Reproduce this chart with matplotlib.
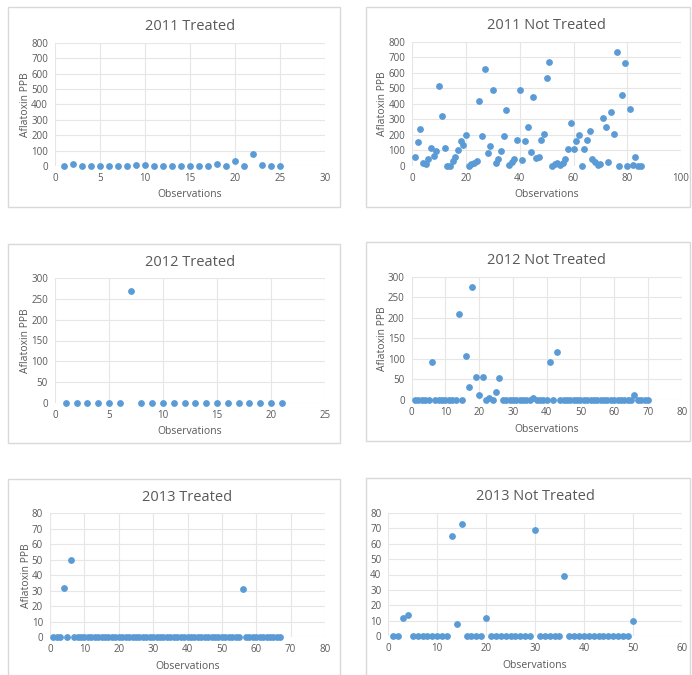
import matplotlib.pyplot as plt
from matplotlib.patches import Rectangle

# Data
t2011 = [2, 13, 0, 2, 2, 0, 2, 2, 4, 4, 0, 0, 0, 0, 0, 0, 0, 13, 0, 30, 0, 80, 9, 0, 0]
nt2011 = [55, 157, 240, 17, 13, 45, 114, 64, 94, 517, 320, 118, 2, 2, 34, 56, 101, 161, 135, 202,
          0, 11, 19, 30, 418, 191, 624, 86, 129, 489, 19, 43, 97, 191, 363, 4, 26, 45, 167, 487,
          36, 161, 251, 88, 446, 54, 58, 167, 208, 569, 667, 2, 13, 17, 6, 21, 45, 109, 277, 107,
          161, 200, 0, 109, 167, 223, 47, 24, 4, 13, 307, 251, 26, 348, 206, 732, 0, 457, 661, 0,
          365, 6, 60, 0, 2]
t2012 = [0, 0, 0, 0, 0, 0, 270, 0, 0, 0, 0, 0, 0, 0, 0, 0, 0, 0, 0, 0, 0]
nt2012 = [0, 0, 0, 0, 0, 92, 0, 0, 0, 0, 0, 0, 0, 210, 0, 108, 32, 274, 57, 13,
          56, 0, 6, 0, 19, 54, 0, 0, 0, 0, 0, 0, 0, 0, 0, 4, 0, 0, 0, 0,
          93, 0, 118, 0, 0, 0, 0, 0, 0, 0, 0, 0, 0, 0, 0, 0, 0, 0, 0, 0,
          0, 0, 0, 0, 0, 13, 0, 0, 0, 0]
t2013 = [0, 0, 0, 32, 0, 50] + [0] * 49 + [31] + [0] * 11
nt2013 = [0, 0, 12, 14, 0, 0, 0, 0, 0, 0, 0, 0, 65, 8, 73, 0, 0, 0, 0, 12,
          0, 0, 0, 0, 0, 0, 0, 0, 0, 69, 0, 0, 0, 0, 0, 39, 0, 0, 0, 0,
          0, 0, 0, 0, 0, 0, 0, 0, 0, 10]

W, H = 692, 675
BLUE = "#5B9BD5"
TEXT = "#595959"
GRID = "#E6E6E6"
BORDER = "#D9D9D9"

plt.rcParams["font.family"] = ["Open Sans", "DejaVu Sans"]

fig = plt.figure(figsize=(W / 100, H / 100), dpi=100)


def box(x0, y0, x1, y1):
    fig.patches.append(Rectangle((x0 / W, 1 - y1 / H), (x1 - x0) / W, (y1 - y0) / H,
                                 transform=fig.transFigure, fill=False,
                                 edgecolor=BORDER, linewidth=1.0))


def panel(vals, title, rect, xmax, xstep, ymax, ystep, ylabel=True):
    x0, ytop, x1, ybot = rect
    ax = fig.add_axes([x0 / W, 1 - ybot / H, (x1 - x0) / W, (ybot - ytop) / H])
    obs = list(range(1, len(vals) + 1))
    ax.scatter(obs, vals, s=15, color=BLUE, zorder=3, clip_on=False)
    ax.set_xlim(0, xmax)
    ax.set_ylim(0, ymax)
    ax.set_xticks(range(0, xmax + 1, xstep))
    ax.set_yticks(range(0, ymax + 1, ystep))
    ax.grid(True, color=GRID, linewidth=0.8)
    ax.set_axisbelow(True)
    for s in ax.spines.values():
        s.set_visible(False)
    ax.tick_params(length=0, labelsize=7, labelcolor=TEXT, pad=5)
    ax.set_title(title, fontsize=10.5, color=TEXT, pad=9)
    ax.set_xlabel("Observations", fontsize=7.5, color=TEXT, labelpad=4)
    if ylabel:
        ax.set_ylabel("Aflatoxin PPB", fontsize=7.5, color=TEXT, labelpad=0)
    return ax


box(8, 7, 340, 207)
box(366, 7, 690, 207)
box(8, 244, 340, 443)
box(366, 242, 690, 441)
box(8, 479, 340, 690)
box(366, 478, 690, 690)

panel(t2011, "2011 Treated", (55, 42.7, 325.3, 166), 30, 5, 800, 100)
panel(nt2011, "2011 Not Treated", (412.3, 41.7, 681, 166), 100, 20, 800, 100)
panel(t2012, "2012 Treated", (55, 278.3, 325, 402.7), 25, 5, 300, 50)
panel(nt2012, "2012 Not Treated", (411.7, 276.7, 681.7, 400), 80, 10, 300, 50)
panel(t2013, "2013 Treated", (50, 513.3, 325, 637.3), 80, 10, 80, 10)
panel(nt2013, "2013 Not Treated", (388.3, 512.7, 681.7, 636.3), 60, 10, 80, 10, ylabel=False)

fig.savefig("out.png", dpi=100, facecolor="white")
